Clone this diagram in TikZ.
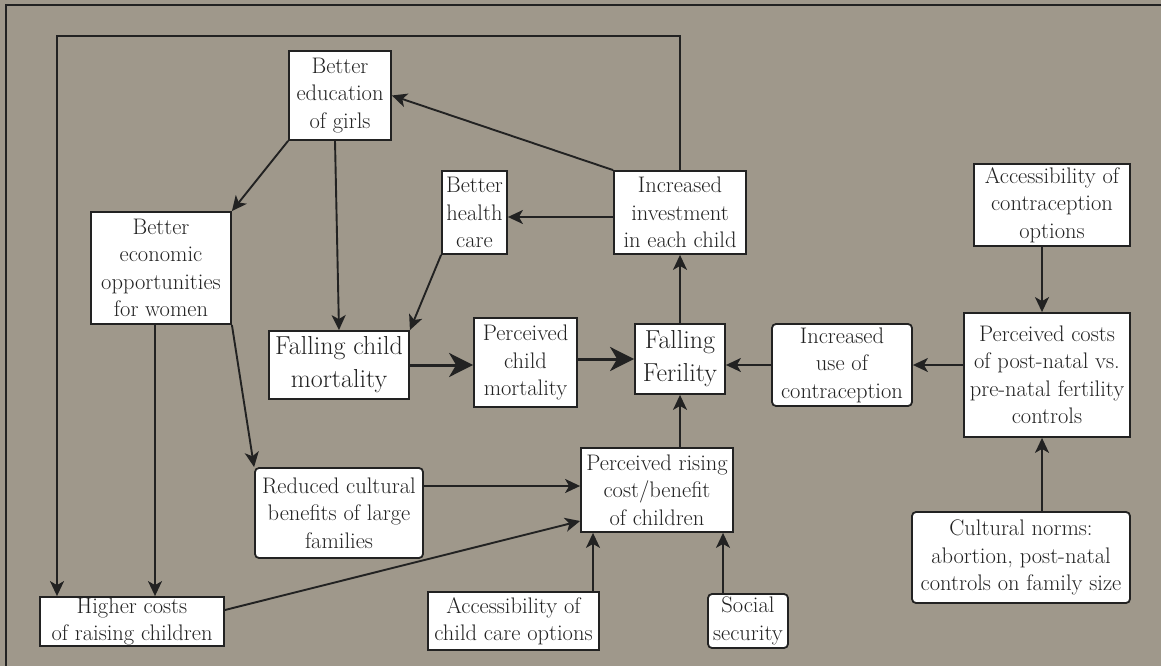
\documentclass[tikz,border=0pt]{standalone}
\usetikzlibrary{arrows.meta,calc}
\definecolor{bgc}{RGB}{159,152,139}
\definecolor{ink}{RGB}{34,34,34}
\tikzset{
  box/.style={draw=ink, line width=1.8pt, fill=white, text=ink, align=center,
    inner sep=0pt, font=\fontsize{22.5}{27.5}\selectfont},
  rbox/.style={box, rounded corners=4pt},
  bigbox/.style={box, font=\fontsize{26}{33}\selectfont},
  arr/.style={draw=ink, line width=1.9pt, -{Stealth[length=15pt,width=14pt,inset=4pt]}},
  thickarr/.style={draw=ink, line width=3pt, -{Stealth[length=24pt,width=24pt,inset=7pt]}},
  plain/.style={draw=ink, line width=1.9pt}
}
\begin{document}
\begin{tikzpicture}[x=1pt,y=-1pt]
\useasboundingbox (0,0) rectangle (1161,666);
\fill[bgc] (0,0) rectangle (1161,666);
\draw[ink, line width=2.5pt] (6,666) -- (6,5) -- (1161,5);

% nodes
\node[box, minimum width=102pt, minimum height=89pt] (edu) at (340,95.5) {Better\\education\\of girls};
\node[box, minimum width=140pt, minimum height=112pt] (econ) at (161,268) {Better\\economic\\opportunities\\for women};
\node[box, minimum width=65pt, minimum height=83pt] (health) at (474.5,212.5) {Better\\health\\care};
\node[box, minimum width=132pt, minimum height=83pt] (invest) at (680,212.5) {Increased\\investment\\in each child};
\node[box, minimum width=156pt, minimum height=82pt] (accC) at (1052,205) {Accessibility of\\contraception\\options};
\node[box, minimum width=166pt, minimum height=124pt] (pcost) at (1047,375) {Perceived costs\\of post-natal vs.\\pre-natal fertility\\controls};
\node[rbox, minimum width=140pt, minimum height=82pt] (use) at (842,365) {Increased\\use of\\contraception};
\node[bigbox, minimum width=90pt, minimum height=70pt] (ff) at (680,359) {Falling\\Ferility};
\node[box, minimum width=103pt, minimum height=89pt] (pcm) at (525.5,362.5) {Perceived\\child\\mortality};
\node[bigbox, minimum width=140pt, minimum height=68pt] (fcm) at (339,365) {Falling child\\mortality};
\node[rbox, minimum width=168pt, minimum height=90pt] (red) at (339,513) {Reduced cultural\\benefits of large\\families};
\node[box, minimum width=152pt, minimum height=84pt] (prc) at (657,490) {Perceived rising\\cost/benefit\\of children};
\node[box, minimum width=184pt, minimum height=49pt] (high) at (132,621.5) {Higher costs\\of raising children};
\node[box, minimum width=171pt, minimum height=58pt] (accCC) at (513.5,621) {Accessibility of\\child care options};
\node[rbox, minimum width=80pt, minimum height=54pt] (soc) at (748,621) {Social\\security};
\node[rbox, minimum width=218pt, minimum height=91pt] (norms) at (1021,557.5) {Cultural norms:\\abortion, post-natal\\controls on family size};

% helper coordinates
\coordinate (lt) at (57,36);
\coordinate (cx) at (1042,0);
\coordinate (ry) at (0,486);
\coordinate (c593) at (593,0);
\coordinate (c723) at (723,0);
\coordinate (hy) at (0,217);

% connectors
\draw[arr] (invest.north) |- (lt) -- (lt |- high.north);
\draw[arr] (invest.north west) -- (edu.east);
\draw[arr] (invest.west |- hy) -- (health.east |- hy);
\draw[arr] (health.south west) -- (fcm.north east);
\draw[arr] ([xshift=-5pt]edu.south) -- (fcm.north);
\draw[arr] (edu.south west) -- (econ.north east);
\draw[arr] ([xshift=-6pt]econ.south) -- ([xshift=-6pt]econ.south |- high.north);
\draw[arr] (econ.south east) -- (red.north west);
\draw[thickarr] (fcm.east) -- (fcm.east -| pcm.west);
\draw[thickarr] (ff.west -| pcm.east) -- (ff.west);
\draw[arr] (ff.north) -- (invest.south);
\draw[arr] (use.west) -- (use.west -| ff.east);
\draw[arr] (use.east -| pcost.west) -- (use.east);
\draw[arr] (cx |- accC.south) -- (cx |- pcost.north);
\draw[arr] (cx |- norms.north) -- (cx |- pcost.south);
\draw[arr] (ff.south |- prc.north) -- (ff.south);
\draw[arr] (red.east |- ry) -- (prc.west |- ry);
\draw[arr] ([yshift=11.5pt]high.east) -- ([yshift=-31pt]prc.west);
\draw[arr] (c593 |- accCC.north) -- (c593 |- prc.south);
\draw[arr] (c723 |- soc.north) -- (c723 |- prc.south);
\end{tikzpicture}
\end{document}
